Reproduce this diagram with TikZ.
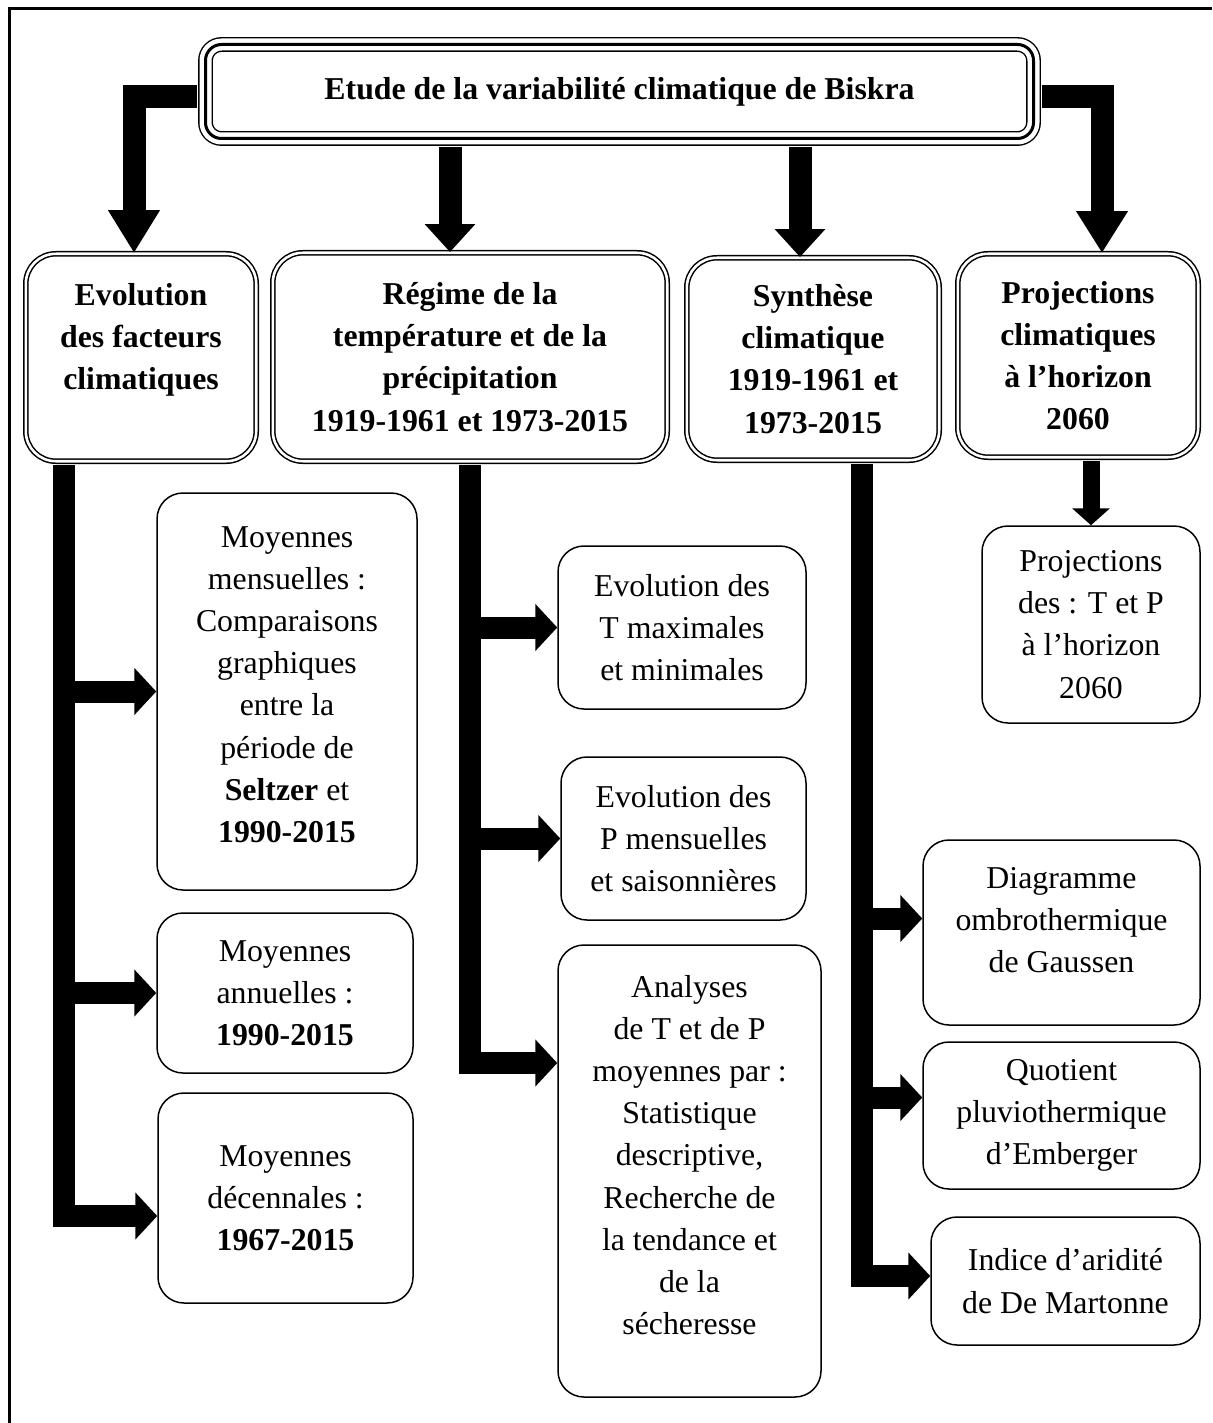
\documentclass[tikz,border=0pt]{standalone}
\usepackage{fontspec}
\setmainfont{Liberation Serif}
\usetikzlibrary{arrows.meta}
\tikzset{
  txt/.style={font=\fontsize{15.9}{21.1}\selectfont, align=center, inner sep=0pt},
  titlebox/.style={txt, font=\fontsize{15.9}{21.1}\selectfont\bfseries, draw, line width=1.5pt,
    rounded corners=8pt, preaction={draw, double, line width=0.7pt, double distance=6pt}},
  catbox/.style={txt, font=\fontsize{15.9}{21.1}\selectfont\bfseries, draw, double,
    line width=0.75pt, double distance=1.3pt, rounded corners=15pt},
  subbox/.style={txt, draw, line width=0.75pt, rounded corners=13pt},
  bigarrow/.style={line width=11.5pt, -{Triangle[width=24.5pt,length=#1]}},
  branch/.style={line width=11pt, -{Triangle[width=23pt,length=11pt]}}
}
\begin{document}
\begin{tikzpicture}[x=0.5pt, y=-0.5pt]
  \useasboundingbox (0,0) rectangle (1212,1423);
  \draw[line width=1.5pt] (9,1423) -- (9,8.5) -- (1212,8.5);

  \node[titlebox, minimum width=414pt, minimum height=47pt] (title) at (619.5,91.5)
    {Etude de la variabilité climatique de Biskra};

  \node[catbox, minimum width=115.2pt, minimum height=103.7pt] (cat1) at (141,357.5)
    {Evolution\\des facteurs\\climatiques\\\mbox{}};
  \node[catbox, minimum width=197.2pt, minimum height=104.2pt] (cat2) at (470,357)
    {Régime de la\\température et de la\\précipitation\\1919-1961 et 1973-2015};
  \node[catbox, minimum width=126.2pt, minimum height=101.2pt] (cat3) at (813,359)
    {Synthèse\\climatique\\1919-1961 et\\1973-2015};
  \node[catbox, minimum width=120.2pt, minimum height=101.7pt] (cat4) at (1078,355.5)
    {Projections\\climatiques\\à l’horizon\\2060};

  \node[subbox, minimum width=130pt, minimum height=198.5pt] (mens) at (287,691.5)
    {Moyennes\\mensuelles :\\Comparaisons\\graphiques\\entre la\\période de\\\textbf{Seltzer} et\\\textbf{1990-2015}\\[-14pt]\mbox{}};
  \node[subbox, minimum width=128pt, minimum height=80pt] (annu) at (285,993)
    {Moyennes\\annuelles :\\\textbf{1990-2015}};
  \node[subbox, minimum width=127.5pt, minimum height=105pt] (dece) at (285.5,1198)
    {Moyennes\\décennales :\\\textbf{1967-2015}};
  \node[subbox, minimum width=124pt, minimum height=81.5pt] (tmax) at (682,627.5)
    {Evolution des\\T maximales\\et minimales};
  \node[subbox, minimum width=122.5pt, minimum height=81.5pt] (pmen) at (683.5,838.5)
    {Evolution des\\P mensuelles\\et saisonnières};
  \node[subbox, minimum width=131.5pt, minimum height=226pt] (anal) at (689.5,1171)
    {Analyses\\de T et de P\\moyennes par :\\Statistique\\descriptive,\\Recherche de\\la tendance et\\de la\\sécheresse\\[-5pt]\mbox{}};
  \node[subbox, minimum width=138.5pt, minimum height=92.5pt] (diag) at (1061.5,932.5)
    {Diagramme\\ombrothermique\\de Gaussen\\[-8.6pt]\mbox{}};
  \node[subbox, minimum width=138.5pt, minimum height=73.5pt] (quot) at (1061.5,1115.5)
    {Quotient\\pluviothermique\\d’Emberger};
  \node[subbox, minimum width=134.5pt, minimum height=64pt] (indi) at (1065.5,1281)
    {Indice d’aridité\\de De Martonne};
  \node[subbox, minimum width=109pt, minimum height=98.5pt] (proj) at (1091,624.5)
    {Projections\\des : T et P\\à l’horizon\\2060};

  % arrows from the title
  \coordinate (tb) at ([yshift=-3.7pt]title.south);
  \coordinate (a2) at ([xshift=-10pt]cat2.north);
  \coordinate (a3) at ([xshift=-6.5pt]cat3.north);
  \draw[bigarrow=21.5pt] ([xshift=-3.7pt,yshift=-2.75pt]title.west) -| ([xshift=-3.5pt]cat1.north);
  \draw[bigarrow=21pt] ([xshift=3.7pt,yshift=-2.75pt]title.east) -| ([xshift=12pt]cat4.north);
  \draw[bigarrow=14pt] (tb -| a2) -- (a2);
  \draw[bigarrow=14pt] (tb -| a3) -- (a3);
  \draw[line width=8.5pt, -{Triangle[width=18.5pt,length=8.5pt]}]
    ([yshift=-1.4pt]cat4.south -| proj.north) -- (proj.north);

  % branches
  \coordinate (b1) at ([xshift=-38.75pt,yshift=-1.4pt]cat1.south);
  \coordinate (b2) at ([yshift=-1.4pt]cat2.south);
  \coordinate (b3) at ([xshift=24.25pt,yshift=-1.4pt]cat3.south);
  \coordinate (e1) at ([yshift=7pt]diag.west);
  \coordinate (e2) at ([yshift=9pt]quot.west);
  \draw[branch] (b1) |- ([yshift=-9pt]dece.west);
  \foreach \s in {mens,annu}
    \draw[branch] (b1 |- \s.west) -- (\s.west);
  \draw[branch] (b2) |- ([yshift=54pt]anal.west);
  \foreach \s in {tmax,pmen}
    \draw[branch] (b2 |- \s.west) -- (\s.west);
  \draw[branch] (b3) |- ([yshift=2.5pt]indi.west);
  \foreach \e in {e1,e2}
    \draw[branch] (b3 |- \e) -- (\e);
\end{tikzpicture}
\end{document}
